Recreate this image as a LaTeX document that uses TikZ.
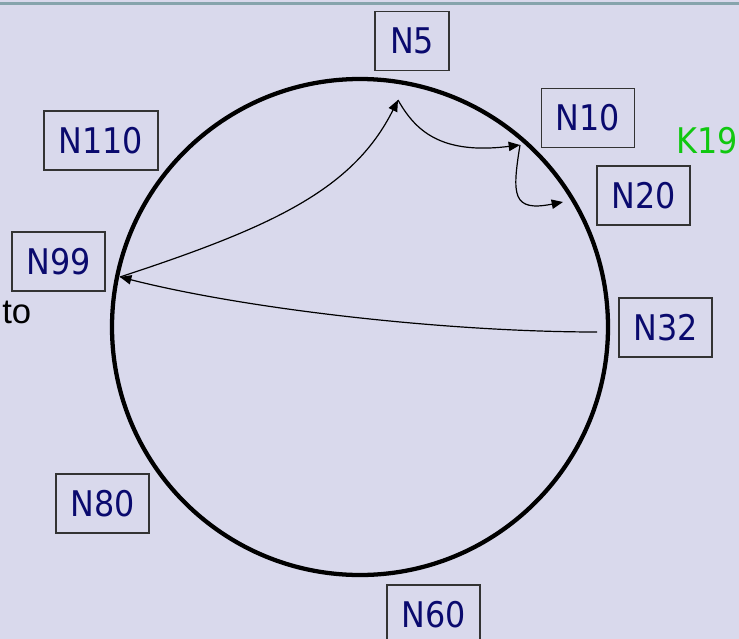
\documentclass[tikz,border=0pt]{standalone}
\usepackage{fontspec}
\setmainfont{DejaVu Sans Condensed}
\newfontfamily\arialfont{Liberation Sans}
\usetikzlibrary{arrows.meta}
\definecolor{bg}{HTML}{D9D9EC}
\definecolor{navy}{HTML}{0A0A6E}
\definecolor{kgreen}{HTML}{10C810}
\definecolor{topline}{HTML}{86A4AC}
\definecolor{boxline}{HTML}{333333}
\tikzset{
  nbox/.style={draw=boxline, line width=1.1pt, inner sep=0pt, minimum height=44.5pt,
    text=navy, font=\fontsize{26.5}{26.5}\selectfont},
  w2/.style={minimum width=55.5pt},
  w3/.style={minimum width=69.75pt},
  w4/.style={minimum width=85.5pt},
  conn/.style={line width=0.9pt, black},
  arr/.style={conn, -{Triangle[length=8.5pt,width=7pt]}}
}
\begin{document}
\begin{tikzpicture}[x=0.75pt,y=-0.75pt]
\fill[bg] (0,0) rectangle (739,639);
\useasboundingbox (0,0) rectangle (739,639);
\draw[topline, line width=2pt] (0,3.5) -- (739,3.5);
% ring
\draw[line width=3.2pt] (360,327) circle [radius=248];
% nodes
\node[nbox,w2] (n5) at (412,41) {N5};
\node[nbox,w3] (n10) at (588,118) {N10};
\node[nbox,w3] (n20) at (643.5,195.5) {N20};
\node[nbox,w4] (n110) at (101,140.5) {N110};
\node[nbox,w3] (n99) at (58.5,261.5) {N99};
\node[nbox,w3] (n32) at (665.5,327.5) {N32};
\node[nbox,w3] (n80) at (102.5,503.5) {N80};
\node[nbox,w3] (n60) at (433.5,614.5) {N60};
\node[text=kgreen, font=\fontsize{26.5}{26.5}\selectfont, inner sep=0pt] (k19) at (707,141) {K19};
\node[anchor=base west, inner sep=0pt, font=\arialfont\fontsize{26}{26}\selectfont] (to) at (2,323) {to};
% points on ring
\coordinate (p99) at (120,277);
\coordinate (p5) at (398,100);
\coordinate (p10) at (520,145);
\coordinate (p20) at (563,202);
\coordinate (p32) at (597,332);
% lookup path
\draw[arr] (p32) .. controls (450,332) and (250,310) .. (p99);
\draw[arr] (p99) .. controls (272,227) and (353,190) .. (p5);
\draw[arr] (p5) .. controls (415,130) and (440,155) .. (p10);
\draw[arr] (p10) .. controls (512,195) and (512,212) .. (p20);
\end{tikzpicture}
\end{document}
